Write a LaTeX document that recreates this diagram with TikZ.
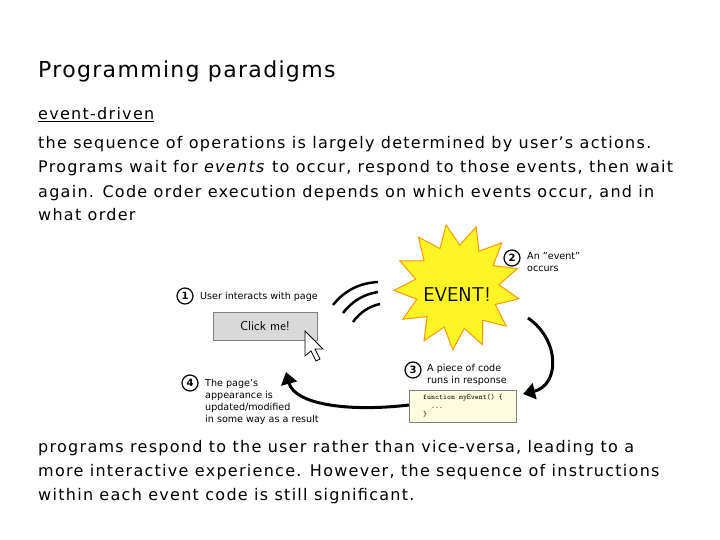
\documentclass[tikz,border=0pt]{standalone}
\usepackage{fontspec}
\setmainfont{DejaVu Sans}
\newfontfamily\bodyf[LetterSpace=8]{DejaVu Sans}
\newfontfamily\titlef[LetterSpace=6]{DejaVu Sans}
\usetikzlibrary{shapes.geometric,arrows.meta}
\tikzset{
 body/.style={anchor=base west,inner sep=0pt,font=\bodyf\fontsize{16}{19}\selectfont},
 small/.style={anchor=west,inner sep=0pt,font=\fontsize{9.6}{12}\selectfont,align=left},
 num/.style={circle,draw,line width=1.2pt,inner sep=0pt,minimum size=16pt,font=\fontsize{10}{10}\selectfont\bfseries},
 curve/.style={line width=3pt,-{Triangle[length=12pt,width=16pt]}},
 wave/.style={line width=2.5pt}
}
\begin{document}
\begin{tikzpicture}[x=1pt,y=-1pt]
\useasboundingbox (0,0) rectangle (720,540);
\fill[white] (0,0) rectangle (720,540);
\node[anchor=base west,inner sep=0pt,font=\titlef\fontsize{22}{26}\selectfont] (title) at (38,78) {Programming paradigms};
\node[body] (l0) at (38,120) {\underline{event-driven}};
\node[body] (l1) at (38,149) {the sequence of operations is largely determined by user’s actions.};
\node[body] (l2) at (38,173) {Programs wait for \textit{events} to occur, respond to those events, then wait};
\node[body] (l3) at (38,197) {again. Code order execution depends on which events occur, and in};
\node[body] (l4) at (38,221) {what order};
\node[body] (b1) at (38,452) {programs respond to the user rather than vice-versa, leading to a};
\node[body] (b2) at (38,476) {more interactive experience. However, the sequence of instructions};
\node[body] (b3) at (38,500) {within each event code is still significant.};
% star
\node[star,star points=13,star point ratio=1.5,minimum size=126pt,fill=yellow!85!white,draw=orange!80!yellow,line width=1pt,rotate=10] (star) at (457,287) {};
\node[font=\fontsize{20}{20}\sffamily] (ev) at (457,295) {EVENT!};
% button
\node[draw=gray,fill=gray!30,minimum width=104pt,minimum height=28pt,font=\fontsize{13}{13}\sffamily] (btn) at (265,326) {Click me!};
% cursor
\draw[fill=white,line width=0.8pt] (305,331) -- (305,356) -- (311,351) -- (316,361) -- (320,359) -- (315,349) -- (323,349) -- cycle;
% waves
\draw[wave] (333,305) .. controls (345,290) and (360,283) .. (378,282);
\draw[wave] (343,313) .. controls (353,300) and (365,294) .. (378,292);
\draw[wave] (353,322) .. controls (360,312) and (370,306) .. (380,304);
% code
\node[draw=gray,fill=yellow!12,minimum width=107pt,minimum height=32pt,align=left,font=\fontsize{7.5}{8.5}\ttfamily] (code) at (463,406) {function myEvent() \{\\\ \ ...\\\}};
\coordinate (s1) at (528,318);
\coordinate (e1) at (523,394);
\draw[curve] (s1) .. controls (560,340) and (560,385) .. (e1);
\coordinate (s2) at (409,405);
\coordinate (e2) at (286,372);
\draw[curve] (s2) .. controls (350,412) and (295,405) .. (e2);
% labels
\node[num] (n1) at (185,296) {1};
\node[small] (t1) at (200,297) {User interacts with page};
\node[num] (n2) at (512,258) {2};
\node[small] (t2) at (527,262) {An "event"\\occurs};
\node[num] (n3) at (413,370) {3};
\node[small] (t3) at (427,375) {A piece of code\\runs in response};
\node[num] (n4) at (190,383) {4};
\node[small] (t4) at (205,402) {The page's\\appearance is\\updated/modified\\in some way as a result};
\end{tikzpicture}
\end{document}
